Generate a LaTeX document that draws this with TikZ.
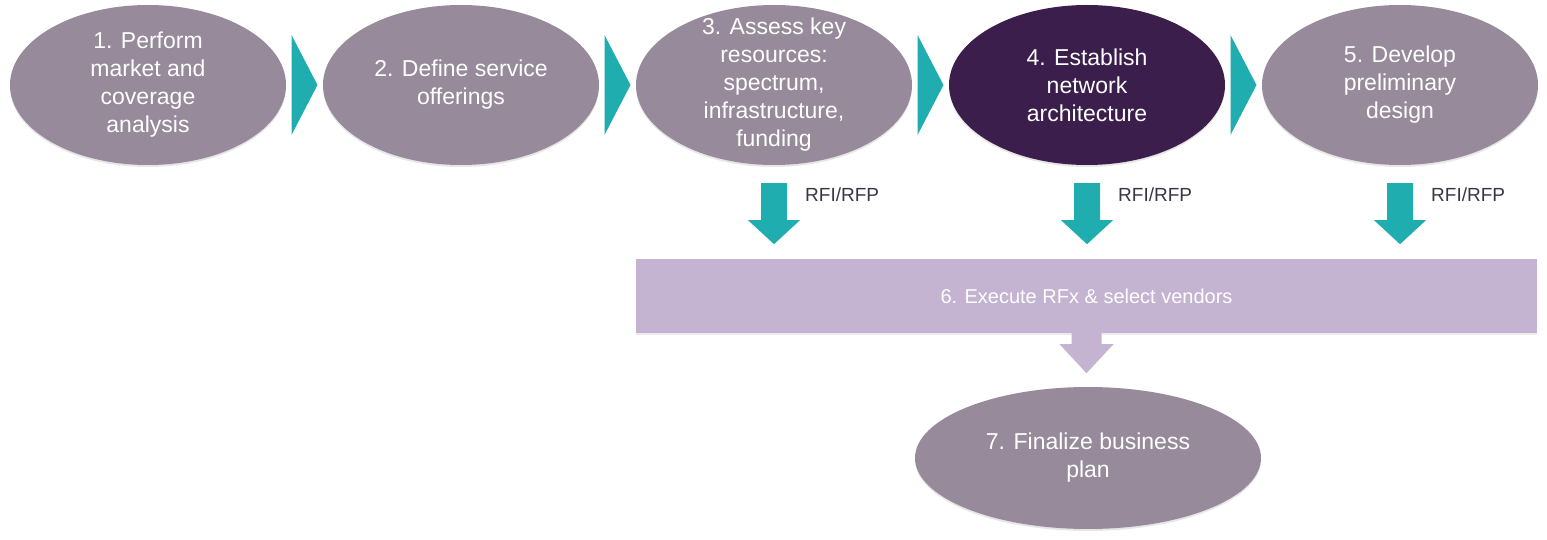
\documentclass[tikz,border=0pt]{standalone}
\usepackage{fontspec}
\setmainfont{Liberation Sans}
\usetikzlibrary{calc,positioning,shapes.geometric,shadows}
\definecolor{stagegray}{RGB}{151,138,155}
\definecolor{stagedark}{RGB}{59,30,75}
\definecolor{flowteal}{RGB}{32,173,175}
\definecolor{rfxlilac}{RGB}{197,179,210}
\definecolor{labelgray}{RGB}{60,52,70}

\begin{document}
\begin{tikzpicture}[x=1pt,y=-1pt,
    stage/.style={ellipse,fill=stagegray,minimum width=276pt,minimum height=160pt,inner xsep=0pt,inner ysep=-18pt,text=white,align=center,font=\fontsize{23}{28}\selectfont,drop shadow={opacity=.2,shadow xshift=0pt,shadow yshift=-2pt}},
    rfx/.style={rectangle,fill=rfxlilac,minimum width=901pt,minimum height=74pt,text=white,font=\fontsize{20}{24}\selectfont,drop shadow={opacity=.15,shadow xshift=0pt,shadow yshift=-2pt}},
    rfilabel/.style={anchor=west,text=labelgray,inner sep=0pt,font=\fontsize{19}{22}\selectfont}]
    \useasboundingbox (0,0) rectangle (1547,540);

    % top row
    \node[stage] (perform) at (148,85) {1. Perform\\market and\\coverage\\analysis};
    \node[stage] (define) at (461,85) {2. Define service\\offerings};
    \node[stage] (assess) at (774,85) {3. Assess key\\resources:\\spectrum,\\infrastructure,\\funding};
    \node[stage,fill=stagedark] (establish) at (1087,85) {4. Establish\\network\\architecture};
    \node[stage] (develop) at (1400,85) {5. Develop\\preliminary\\design};

    \foreach \a/\b in {perform/define,define/assess,assess/establish,establish/develop}
        \fill[flowteal] ($(\a.east)!.5!(\b.west)+(-13,-50)$) -- ++(26,50) -- ++(-26,50) -- cycle;

    % rfx bar
    \node[rfx] (execute) at (1086.5,296) {6. Execute RFx \& select vendors};

    \foreach \s in {assess,establish,develop}{
        \begin{scope}[shift={(\s.south)}]
            \fill[flowteal] (-13,18) -- (13,18) -- (13,55) -- (26,55) -- (0,79) -- (-26,55) -- (-13,55) -- cycle;
        \end{scope}
        \node[rfilabel] (rfi-\s) at ($(\s.south)+(31,30)$) {RFI/RFP};
    }

    % last step
    \node[stage,minimum width=346pt,minimum height=142pt] (finalize) at (1088,458) {7. Finalize business\\plan};
    \begin{scope}[shift={(execute.south)}]
        \fill[rfxlilac] (-15,0) -- (15,0) -- (15,11) -- (27,11) -- (0,40) -- (-27,11) -- (-15,11) -- cycle;
    \end{scope}
\end{tikzpicture}
\end{document}
